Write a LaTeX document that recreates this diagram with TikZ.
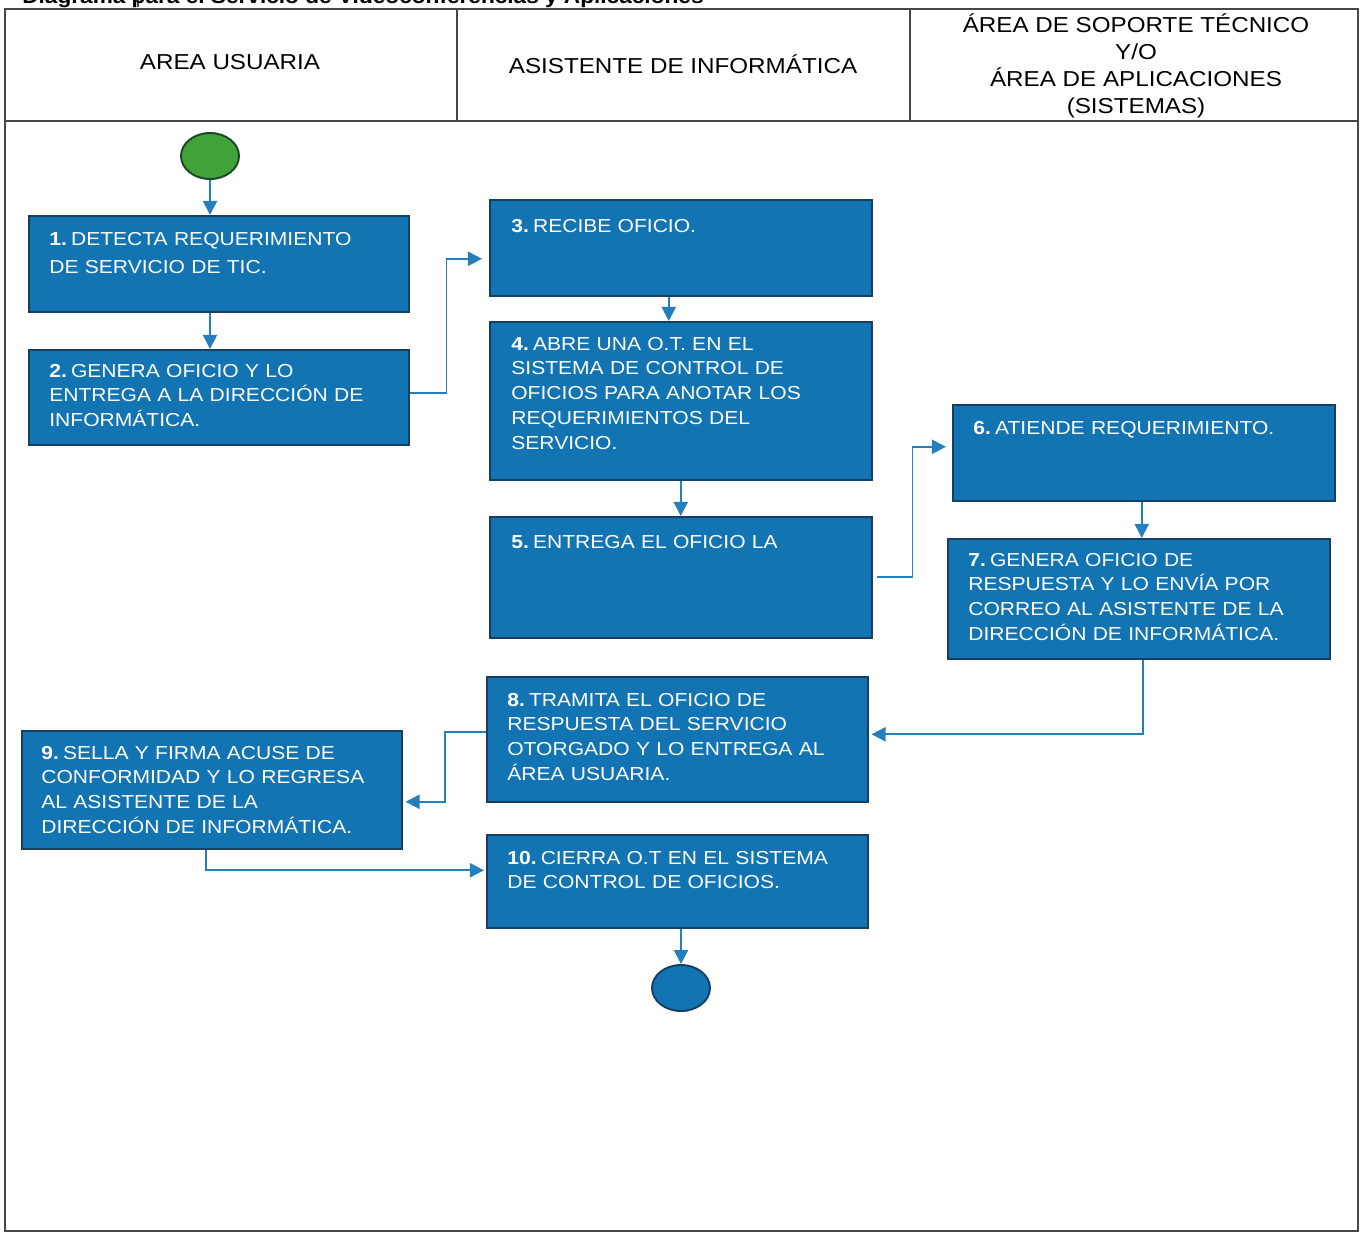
\documentclass[tikz,border=0pt]{standalone}
\usepackage{fontspec}
\setmainfont[FakeStretch=1.12]{Liberation Sans}
\usetikzlibrary{arrows.meta,positioning,shapes.geometric}

\definecolor{azul}{RGB}{18,116,178}
\definecolor{azulborde}{RGB}{24,62,96}
\definecolor{flecha}{RGB}{36,128,188}
\definecolor{verde}{RGB}{66,162,58}
\definecolor{marco}{RGB}{70,70,70}

\newcommand\num[1]{\textbf{#1}\hspace{0.22em}}

\tikzset{
 paso/.style={draw=azulborde, line width=0.9pt, fill=azul, anchor=north west, inner sep=0pt},
 texto/.style={text=white, anchor=base west, align=left, text width=7cm, inner sep=0pt,
  font=\fontsize{10.7}{14.1}\selectfont},
 encabezado/.style={align=center, inner sep=0pt, font=\fontsize{12.3}{15.3}\selectfont},
 flujo/.style={draw=flecha, line width=1.1pt, -{Triangle[length=8pt,width=8pt]}},
 terminal/.style={ellipse, line width=1.1pt, minimum width=1.16cm, minimum height=0.92cm, inner sep=0pt}
}

\begin{document}
\begin{tikzpicture}[x=0.02cm,y=-0.02cm]
\useasboundingbox (0,0) rectangle (1361,1234);

% marco y encabezados
\draw 
[marco, line width=0.9pt] 
(5,9) rectangle (1358,1231);
\draw 
[marco, line width=0.9pt] 
(5,121)--(1358,121);
\draw 
[marco, line width=0.9pt] 
(457,9)--(457,121);
\draw 
[marco, line width=0.9pt] 
(910,9)--(910,121);
\draw 
[marco, line width=0.6pt] 
(138,0)--(138,7);

\node [anchor=base west, inner sep=0pt, font=\bfseries\fontsize{11.5}{14}\selectfont] (titulo) at (22,3)
 {Diagrama para el Servicio de Videoconferencias y Aplicaciones};

\node [encabezado] (h1) at (230,62) {AREA USUARIA};
\node [encabezado] (h2) at (683,64) {ASISTENTE DE INFORMÁTICA};
\node [encabezado] (h3) at (1136,66)
 {ÁREA DE SOPORTE TÉCNICO\\Y/O\\ÁREA DE APLICACIONES\\(SISTEMAS)};

% inicio y fin
\node [terminal, draw={rgb,255:red,24;green,70;blue,40}, fill=verde] (ini) at (210,156) {};
\node [terminal, draw=azulborde, fill=azul] (fin) at (681,988) {};

% pasos
\node [paso, minimum width=7.6cm, minimum height=1.92cm] (p1) at (28,215) {};
\node [paso, minimum width=7.6cm, minimum height=1.9cm] (p2) at (28,349) {};
\node [paso, minimum width=7.64cm, minimum height=1.92cm] (p3) at (489,199) {};
\node [paso, minimum width=7.64cm, minimum height=3.16cm] (p4) at (489,321) {};
\node [paso, minimum width=7.64cm, minimum height=2.42cm] (p5) at (489,516) {};
\node [paso, minimum width=7.64cm, minimum height=1.92cm] (p6) at (952,404) {};
\node [paso, minimum width=7.64cm, minimum height=2.4cm] (p7) at (947,538) {};
\node [paso, minimum width=7.62cm, minimum height=2.5cm] (p8) at (486,676) {};
\node [paso, minimum width=7.6cm, minimum height=2.36cm] (p9) at (21,730) {};
\node [paso, minimum width=7.62cm, minimum height=1.86cm] (p10) at (486,834) {};

\node [texto, font=\fontsize{10.7}{16.4}\selectfont] (t1) at ([shift={(21,30)}]p1.north west)
 {\num{1.}DETECTA REQUERIMIENTO\\DE SERVICIO DE TIC.};
\node [texto] (t2) at ([shift={(21,28)}]p2.north west)
 {\num{2.}GENERA OFICIO Y LO\\ENTREGA A LA DIRECCIÓN DE\\INFORMÁTICA.};
\node [texto] (t3) at ([shift={(22,33)}]p3.north west)
 {\num{3.}RECIBE OFICIO.};
\node [texto] (t4) at ([shift={(22,29)}]p4.north west)
 {\num{4.}ABRE UNA O.T. EN EL\\SISTEMA DE CONTROL DE\\OFICIOS PARA ANOTAR LOS\\REQUERIMIENTOS DEL\\SERVICIO.};
\node [texto] (t5) at ([shift={(22,32)}]p5.north west)
 {\num{5.}ENTREGA EL OFICIO LA};
\node [texto] (t6) at ([shift={(21,30)}]p6.north west)
 {\num{6.}ATIENDE REQUERIMIENTO.};
\node [texto] (t7) at ([shift={(21,28)}]p7.north west)
 {\num{7.}GENERA OFICIO DE\\RESPUESTA Y LO ENVÍA POR\\CORREO AL ASISTENTE DE LA\\DIRECCIÓN DE INFORMÁTICA.};
\node [texto] (t8) at ([shift={(21,30)}]p8.north west)
 {\num{8.}TRAMITA EL OFICIO DE\\RESPUESTA DEL SERVICIO\\OTORGADO Y LO ENTREGA AL\\ÁREA USUARIA.};
\node [texto] (t9) at ([shift={(20,29)}]p9.north west)
 {\num{9.}SELLA Y FIRMA ACUSE DE\\CONFORMIDAD Y LO REGRESA\\AL ASISTENTE DE LA\\DIRECCIÓN DE INFORMÁTICA.};
\node [texto] (t10) at ([shift={(21,30)}]p10.north west)
 {\num{10.}CIERRA O.T EN EL SISTEMA\\DE CONTROL DE OFICIOS.};

% flechas
\draw 
[flujo] 
(ini.south)--(ini.south |- p1.north);
\draw 
[flujo] 
(ini |- p1.south)--(ini |- p2.north);
\draw 
[flujo] 
([shift={(0,-4)}]p2.east)--++(37,0) |- ([shift={(-7,11)}]p3.west);
\draw 
[flujo] 
([shift={(-12,0)}]p3.south)--([shift={(-12,0)}]p4.north);
\draw 
[flujo] 
(p4.south)--(p5.north);
\draw 
[flujo] 
([shift={(4,0)}]p5.east)--++(36,0) |- ([shift={(-6,-6)}]p6.west);
\draw 
[flujo] 
([shift={(-2,0)}]p6.south)--([shift={(-2,0)}]p6.south |- p7.north);
\draw 
[flujo] 
([shift={(4,0)}]p7.south) |- ([shift={(3,-5)}]p8.east);
\draw 
[flujo] 
([shift={(0,-7)}]p8.west)--++(-41,0) |- ([shift={(3,12)}]p9.east);
\draw 
[flujo] 
([shift={(-6,0)}]p9.south) |- ([shift={(-2,-11)}]p10.west);
\draw 
[flujo] 
(fin |- p10.south)--(fin.north);

\end{tikzpicture}
\end{document}
